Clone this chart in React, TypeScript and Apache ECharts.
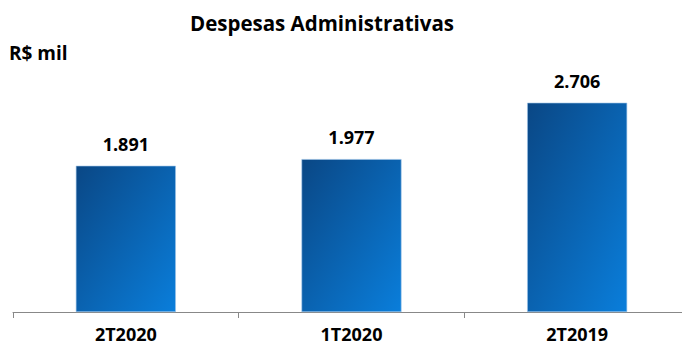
import React, { useEffect, useRef } from "react";
import * as echarts from "echarts";

const categories = ["2T2020", "1T2020", "2T2019"];
const values = [1891, 1977, 2706];
const valueLabels = ["1.891", "1.977", "2.706"];

export default function App() {
  const ref = useRef<HTMLDivElement>(null);
  useEffect(() => {
    if (!ref.current) return;
    const chart = echarts.init(ref.current, null, { renderer: "svg" });
    const font = "'Open Sans', sans-serif";
    chart.setOption({
      animation: false,
      backgroundColor: "#ffffff",
      title: [
        {
          text: "Despesas Administrativas",
          left: 322,
          top: 12,
          padding: 0,
          textAlign: "center",
          textStyle: { fontFamily: font, fontWeight: "bold", fontSize: 20.5, color: "#000" },
        },
        {
          text: "R$ mil",
          left: 9,
          top: 43,
          padding: 0,
          textStyle: { fontFamily: font, fontWeight: "bold", fontSize: 19, color: "#000" },
        },
      ],
      grid: { left: 13, right: 2, top: 80, bottom: 33 },
      xAxis: {
        type: "category",
        data: categories,
        axisLine: { lineStyle: { color: "#888", width: 1 } },
        axisTick: { show: true, length: 6, lineStyle: { color: "#888" } },
        axisLabel: {
          fontFamily: font,
          fontWeight: "bold",
          fontSize: 18,
          lineHeight: 18,
          color: "#000",
          margin: 13,
        },
      },
      yAxis: {
        type: "value",
        min: 0,
        max: 3000,
        show: false,
        splitLine: { show: false },
      },
      series: [
        {
          type: "bar",
          data: values,
          barWidth: 100,
          itemStyle: {
            color: new echarts.graphic.LinearGradient(0, 0, 1, 1, [
              { offset: 0, color: "#0a4785" },
              { offset: 1, color: "#0a7edb" },
            ]),
            borderColor: "#9cc2e8",
            borderWidth: 0.6,
          },
          label: {
            show: true,
            position: "top",
            distance: 13,
            formatter: (p: any) => valueLabels[p.dataIndex],
            fontFamily: font,
            fontWeight: "bold",
            fontSize: 18,
            color: "#000",
          },
        },
      ],
    });
    return () => chart.dispose();
  }, []);
  return (
    <div
      style={{
        position: "absolute",
        left: 0,
        top: 0,
        width: 682,
        height: 345,
        overflow: "hidden",
      }}
    >
      <div ref={ref} style={{ width: 692, height: 345 }} />
    </div>
  );
}
